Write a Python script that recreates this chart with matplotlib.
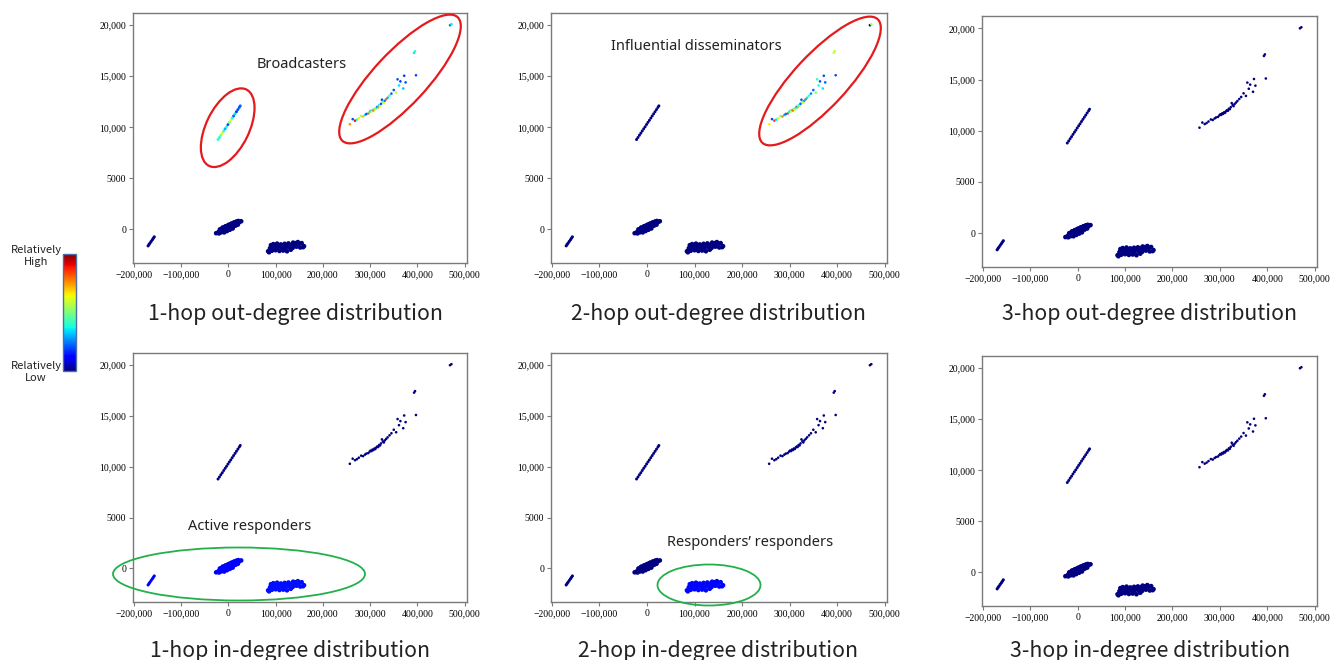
import matplotlib
matplotlib.use("Agg")
from matplotlib import pyplot as plt
from matplotlib.patches import Ellipse
from matplotlib.colors import Normalize
from matplotlib.cm import ScalarMappable

plt.rcParams["font.family"] = ["Noto Sans CJK SC", "DejaVu Sans"]

# axis ticks
x_ticks = [-200000, -100000, 0, 100000, 200000, 300000, 400000, 500000]
x_tick_labels = ["\u2212200,000", "\u2212100,000", "0", "100,000", "200,000",
                 "300,000", "400,000", "500,000"]
y_ticks = [0, 5000, 10000, 15000, 20000]
y_tick_labels = ["0", "5000", "10,000", "15,000", "20,000"]

panel_titles = ["1-hop out-degree distribution", "2-hop out-degree distribution",
                "3-hop out-degree distribution", "1-hop in-degree distribution",
                "2-hop in-degree distribution", "3-hop in-degree distribution"]

# cluster 1: short stroke bottom-left
small_x = [-170000, -168000, -166000, -163500, -161000, -159000, -157000]
small_y = [-1620, -1480, -1350, -1180, -1020, -880, -740]

# cluster 2: blob around the origin
blob_x = [-26000, -21000, -16000, -11000, -6000, -1000, 4000, 9000, 14000, 19000, 23000, 27000,
          -18000, -13000, -8000, -3000, 2000, 7000, 12000, 17000, 21000,
          -20000, -15000, -10000, -5000, 0, 5000, 10000, 15000, 20000,
          -12000, -6000, 0, 6000, 12000,
          -9000, -3000, 3000, 9000]
blob_y = [-380, -260, -150, -40, 70, 180, 300, 410, 520, 630, 700, 790,
          0, 110, 230, 340, 460, 570, 680, 770, 820,
          -400, -290, -190, -80, 30, 140, 250, 360, 460,
          180, 300, 420, 540, 640,
          -300, -170, -40, 80]

# cluster 3: band below zero
band_x = [95000, 103000, 111000, 119000, 127000, 135000, 143000, 150000,
          88000, 96000, 104000, 112000, 120000, 128000, 136000, 144000, 152000, 160000,
          84000, 92000, 100000, 108000, 116000, 124000, 132000,
          155000, 158000, 147000, 137000, 86000, 90000,
          99000, 107000, 115000, 123000, 131000, 139000]
band_y = [-1450, -1400, -1480, -1420, -1380, -1450, -1350, -1420,
          -1850, -1780, -1820, -1760, -1800, -1750, -1820, -1700, -1780, -1650,
          -2150, -2100, -2050, -2120, -2080, -2150, -2000,
          -1350, -1750, -1250, -1300, -2250, -1550,
          -1620, -1600, -1640, -1580, -1620, -1560]

# cluster 4: diagonal line
diag_x = [-22000, -19000, -16000, -13000, -10000, -7000, -4000, -1000, 2000,
          5000, 8000, 11000, 14000, 17000, 20000, 23000, 25000]
diag_y = [8800, 9000, 9220, 9420, 9640, 9850, 10050, 10270, 10480,
          10680, 10900, 11110, 11320, 11530, 11740, 11950, 12100]
diag_1hop_out = [0.40, 0.38, 0.50, 0.62, 0.40, 0.30, 0.38, 0.20, 0.50,
                 0.62, 0.40, 0.22, 0.35, 0.18, 0.20, 0.20, 0.22]

# cluster 5: high-degree points top-right
top_x = [257000, 263000, 268000, 272000, 276000, 281000, 285000, 289000, 292000, 296000,
         299000, 301000, 303000, 305000, 307000, 309000, 311000, 313000, 315000, 317000,
         319000, 321000, 323000, 325000, 327000, 329000, 331000, 334000, 337000, 341000,
         345000, 350000, 355000, 358000, 361000, 364000, 370000, 372000, 375000, 393000,
         395000, 397000, 469000, 472000]
top_y = [10300, 10800, 10650, 10750, 10900, 11100, 11050, 11200, 11300, 11350,
         11500, 11600, 11550, 11700, 11650, 11800, 11750, 11900, 12000, 11950,
         12150, 12100, 12300, 12700, 12500, 12400, 12600, 12750, 12900, 13100,
         13300, 13650, 13400, 14700, 14100, 14500, 13800, 15050, 14400, 17300,
         17450, 15100, 20000, 20100]
top_1hop_out = [0.75, 0.20, 0.90, 0.40, 0.65, 0.55, 0.70, 0.35, 0.20, 0.80,
                0.40, 0.30, 0.65, 0.38, 0.78, 0.40, 0.62, 0.42, 0.25, 0.75,
                0.35, 0.60, 0.20, 0.18, 0.40, 0.65, 0.25, 0.80, 0.30, 0.40,
                0.22, 0.20, 0.58, 0.20, 0.35, 0.18, 0.32, 0.18, 0.20, 0.35,
                0.40, 0.20, 0.25, 0.35]
top_2hop_out = [0.65, 0.20, 0.85, 0.35, 0.60, 0.50, 0.75, 0.30, 0.22, 0.85,
                0.38, 0.35, 0.62, 0.40, 0.80, 0.45, 0.60, 0.40, 0.25, 0.72,
                0.38, 0.55, 0.22, 0.20, 0.42, 0.60, 0.28, 0.82, 0.35, 0.42,
                0.25, 0.22, 0.50, 0.40, 0.38, 0.20, 0.35, 0.20, 0.22, 0.60,
                0.58, 0.20, 0.12, 0.55]

# uniform level of the lower clusters per panel (0 = lowest)
small_level = [0, 0, 0, 0.12, 0, 0]
blob_level = [0, 0, 0, 0.12, 0, 0]
band_level = [0, 0, 0, 0.14, 0.13, 0]
diag_values = [diag_1hop_out, None, None, None, None, None]
top_values = [top_1hop_out, top_2hop_out, None, None, None, None]

W, H = 1333, 660
fig = plt.figure(figsize=(W / 100, H / 100), dpi=100)

# axes boxes in pixels: left, right, top, bottom
boxes = [(133, 467, 13, 263), (551, 887, 13, 263), (982, 1317, 16, 267),
         (133, 467, 353, 602), (551, 887, 353, 602), (982, 1317, 356, 606)]

norm = Normalize(0, 1)
spine_grey = "#7a7a7a"


def values_for(vals, level, n):
    if vals is None:
        return [level] * n
    return vals


for i, (l, r, t, b) in enumerate(boxes):
    ax = fig.add_axes([l / W, 1 - b / H, (r - l) / W, (b - t) / H])
    ax.scatter(small_x, small_y, c=values_for(None, small_level[i], len(small_x)),
               cmap="jet", norm=norm, s=5, linewidths=0)
    ax.scatter(blob_x, blob_y, c=values_for(None, blob_level[i], len(blob_x)),
               cmap="jet", norm=norm, s=11, linewidths=0)
    ax.scatter(band_x, band_y, c=values_for(None, band_level[i], len(band_x)),
               cmap="jet", norm=norm, s=11, linewidths=0)
    ax.scatter(diag_x, diag_y, c=values_for(diag_values[i], 0, len(diag_x)),
               cmap="jet", norm=norm, s=4.5, linewidths=0)
    ax.scatter(top_x, top_y, c=values_for(top_values[i], 0, len(top_x)),
               cmap="jet", norm=norm, s=3.5, linewidths=0)

    ax.set_xlim(-202000, 505000)
    ax.set_ylim(-3300, 21200)
    ax.set_xticks(x_ticks)
    ax.set_xticklabels(x_tick_labels)
    ax.set_yticks(y_ticks)
    ax.set_yticklabels(y_tick_labels)
    ax.tick_params(labelsize=7, length=3, width=0.8, color=spine_grey, pad=2)
    for lab in ax.get_xticklabels() + ax.get_yticklabels():
        lab.set_fontfamily("Liberation Serif")
    for sp in ax.spines.values():
        sp.set_color(spine_grey)
        sp.set_linewidth(1)

# panel titles
title_pos = [(295, 314), (718, 314), (1150, 314), (290, 651), (718, 651), (1150, 651)]
for (x, y), title in zip(title_pos, panel_titles):
    fig.text(x / W, 1 - y / H, title, ha="center", va="center", fontsize=15.3,
             color="#222222", fontweight="light")

# group labels
notes = [("Broadcasters", 302, 64), ("Influential disseminators", 696, 47),
         ("Active responders", 250, 527), ("Responders\u2019 responders", 750, 543)]
for text, x, y in notes:
    fig.text(x / W, 1 - y / H, text, ha="center", va="center", fontsize=10.5,
             color="#222222", family=["Noto Sans", "DejaVu Sans"])

# highlight ellipses (pixel centre, width, height, angle)
rings = [(227.7, 127.7, 85, 43, 64, "#e41a1c", 1.6),
         (400, 79, 169, 53, 47, "#e41a1c", 1.6),
         (820, 81, 169, 53, 47, "#e41a1c", 1.6),
         (239, 574, 252, 53, 0, "#22b04b", 1.3),
         (709, 585, 103, 41, 0, "#22b04b", 1.3)]
for cx, cy, w, h, ang, col, lw in rings:
    fig.add_artist(Ellipse((cx / 100, (H - cy) / 100), w / 100, h / 100, angle=ang,
                           fill=False, edgecolor=col, linewidth=lw,
                           transform=fig.dpi_scale_trans))

# colour scale
cax = fig.add_axes([63 / W, 1 - 371 / H, 13 / W, 117 / H])
cb = fig.colorbar(ScalarMappable(norm=norm, cmap="jet"), cax=cax)
cb.set_ticks([])
cb.outline.set_edgecolor("#4f6fa8")
cb.outline.set_linewidth(1)
fig.text(36 / W, 1 - 256 / H, "Relatively\nHigh", ha="center", va="center",
         fontsize=8, color="#222222", linespacing=1.3)
fig.text(36 / W, 1 - 372 / H, "Relatively\nLow", ha="center", va="center",
         fontsize=8, color="#222222", linespacing=1.3)

fig.savefig("out.png", dpi=100)
